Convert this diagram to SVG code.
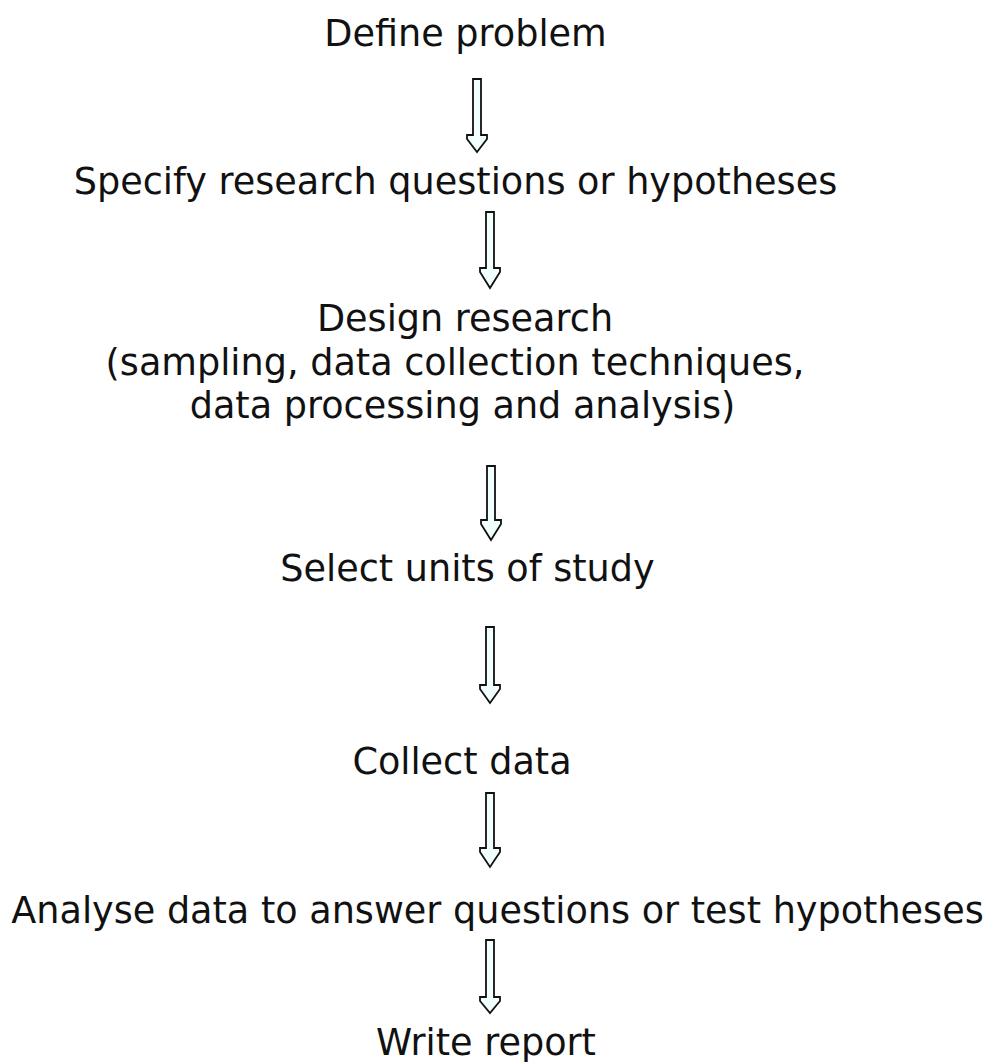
<svg xmlns="http://www.w3.org/2000/svg" width="994" height="1062" viewBox="0 0 994 1062">
<style>
text{font-family:"DejaVu Sans","Verdana",sans-serif;font-size:36.6px;fill:#111;text-anchor:middle}
.arr{fill:#f2ffff;stroke:#111;stroke-width:1.8;stroke-linejoin:miter}
</style>
<rect width="994" height="1062" fill="#fff"/>
<g id="connectors">
<path class="arr" d="M473,79 H481 V135 H487 V139 L477,152 L467,139 V135 H473 Z"/>
<path class="arr" d="M486,212 H494 V268 H500 V272 L490,288 L480,272 V268 H486 Z"/>
<path class="arr" d="M487,466 H495 V520 H501 V524 L491,540 L481,524 V520 H487 Z"/>
<path class="arr" d="M486,627 H494 V685 H500 V689 L490,703 L480,689 V685 H486 Z"/>
<path class="arr" d="M486,793 H494 V848 H500 V852 L490,867 L480,852 V848 H486 Z"/>
<path class="arr" d="M486,940 H494 V997 H500 V1001 L490,1013 L480,1001 V997 H486 Z"/>
</g>
<g id="n1"><text x="465.5" y="46">Define problem</text></g>
<g id="n2"><text x="455.5" y="194">Specify research questions or hypotheses</text></g>
<g id="n3"><text x="465" y="331">Design research</text><text x="455" y="375">(sampling, data collection techniques,</text><text x="462.5" y="418">data processing and analysis)</text></g>
<g id="n4"><text x="467.5" y="581">Select units of study</text></g>
<g id="n5"><text x="462" y="774">Collect data</text></g>
<g id="n6"><text x="497.5" y="923">Analyse data to answer questions or test hypotheses</text></g>
<g id="n7"><text x="486" y="1055">Write report</text></g>
</svg>
